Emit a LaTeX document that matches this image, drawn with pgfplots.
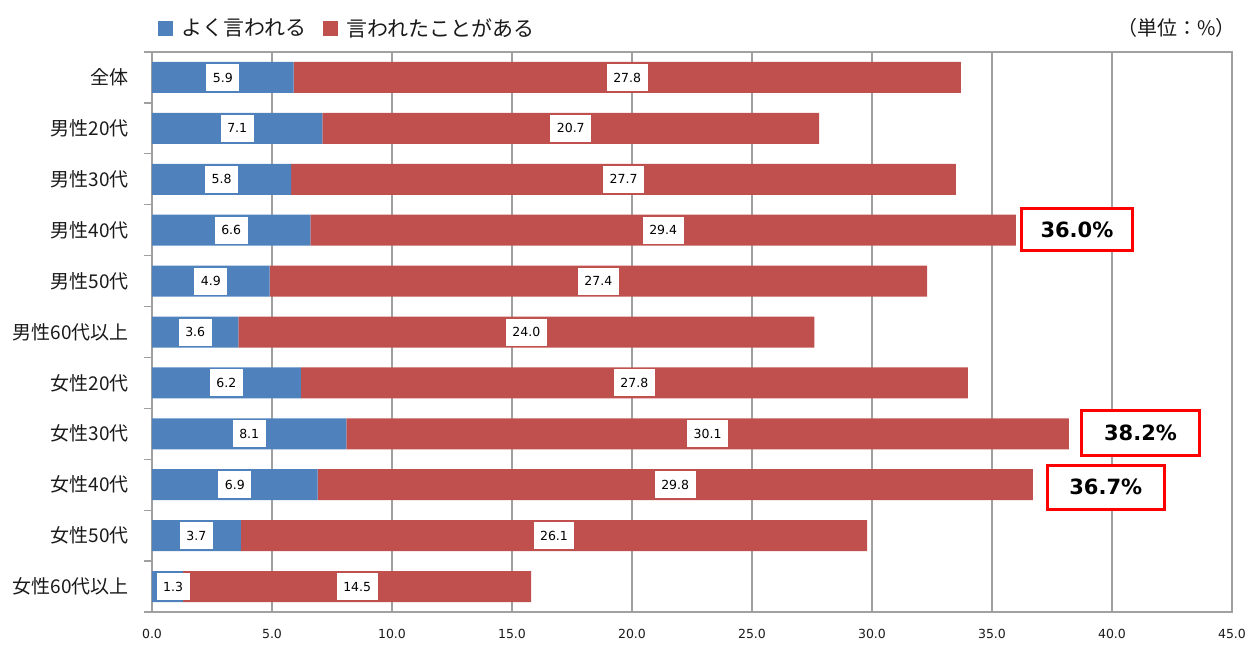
\documentclass[border=0pt]{standalone}
\usepackage{fontspec}
\setmainfont{Noto Sans CJK JP}
\newfontfamily\numfont{DejaVu Sans}
\usepackage{pgfplots}
\pgfplotsset{compat=1.18}
\usepackage{pgfplotstable}
\definecolor{cblue}{HTML}{4F81BD}
\definecolor{cred}{HTML}{C0504D}
\definecolor{gridgray}{HTML}{A0A0A0}
\definecolor{txt}{HTML}{1A1A1A}

\pgfplotstableread{
y a b
0 5.9 27.8
1 7.1 20.7
2 5.8 27.7
3 6.6 29.4
4 4.9 27.4
5 3.6 24.0
6 6.2 27.8
7 8.1 30.1
8 6.9 29.8
9 3.7 26.1
10 1.3 14.5
}\datatable

\begin{document}
\begin{tikzpicture}
\useasboundingbox (-152bp,-34bp) rectangle (1105bp,612bp);
\pgfplotsset{
  base/.style={scale only axis, width=1080bp, height=560bp,
    at={(0bp,0bp)}, anchor=south west,
    xmin=0, xmax=45, ymin=-0.5, ymax=10.5, y dir=reverse,
    /pgf/number format/assume math mode=true},
}
\begin{axis}[base,
  xbar stacked, bar width=31bp,
  axis line style={gridgray, line width=1.2bp},
  xtick={0,5,...,45},
  xmajorgrids, grid style={gridgray, line width=1.2bp},
  major tick length=0pt,
  ytick={0,...,10},
  yticklabels={全体,男性20代,男性30代,男性40代,男性50代,男性60代以上,女性20代,女性30代,女性40代,女性50代,女性60代以上},
  minor ytick={-0.5,0.5,...,10.5},
  minor tick length=8bp,
  tick align=outside, tick pos=left,
  minor tick style={gridgray, line width=1.2bp},
  xticklabel={\pgfmathprintnumber[fixed,fixed zerofill,precision=1]{\tick}},
  xticklabel style={font=\numfont\fontsize{12.5bp}{14bp}\selectfont, text=txt, inner sep=0pt, yshift=-17bp},
  yticklabel style={font=\fontsize{19bp}{22bp}\selectfont, text=txt, inner sep=0pt, xshift=-23bp},
  legend columns=2,
  legend image code/.code={\path[#1] (0bp,-7.5bp) rectangle (15bp,7.5bp);},
  legend style={draw=none, fill=none, at={(axis description cs:0,1)}, anchor=south west,
    xshift=3bp, yshift=10bp, font=\fontsize{21bp}{24bp}\selectfont, text=txt,
    /tikz/every odd column/.append style={column sep=6bp},
    /tikz/every even column/.append style={column sep=15bp}},
]
\addplot[fill=cblue, draw=none] table[x=a, y=y] {\datatable};
\addlegendentry{よく言われる}
\addplot[fill=cred, draw=none] table[x=b, y=y] {\datatable};
\addlegendentry{言われたことがある}
\end{axis}

\begin{axis}[base, hide axis,
  nodes near coords={\pgfmathprintnumber[fixed,fixed zerofill,precision=1]{\pgfplotspointmeta}},
  every node near coord/.append style={anchor=center, fill=white, inner xsep=6.5bp, inner ysep=0pt,
    minimum height=27bp, text=black, font=\numfont\fontsize{12.5bp}{14bp}\selectfont},
  clip=false,
]
\addplot[draw=none, mark=none, point meta=explicit] table[x expr={max(\thisrow{a}/2,0.88)}, y=y, meta=a] {\datatable};
\addplot[draw=none, mark=none, point meta=explicit] table[x expr={\thisrow{a}+\thisrow{b}/2}, y=y, meta=b] {\datatable};
\tikzset{pctbox/.style={draw=red, line width=3bp, fill=white, inner sep=0pt, text=black,
  font=\numfont\bfseries\fontsize{21bp}{24bp}\selectfont}}
\node[pctbox, minimum width=111bp, minimum height=42bp] at (axis cs:38.54,2.99) {36.0\%};
\node[pctbox, minimum width=118bp, minimum height=45bp] at (axis cs:41.19,6.99) {38.2\%};
\node[pctbox, minimum width=117bp, minimum height=44bp] at (axis cs:39.74,8.05) {36.7\%};
\node[anchor=east, inner sep=0pt, font=\fontsize{20bp}{23bp}\selectfont, text=txt]
  at (rel axis cs:1,1) [xshift=4bp, yshift=24bp] {（単位：\%）};
\end{axis}
\end{tikzpicture}
\end{document}
